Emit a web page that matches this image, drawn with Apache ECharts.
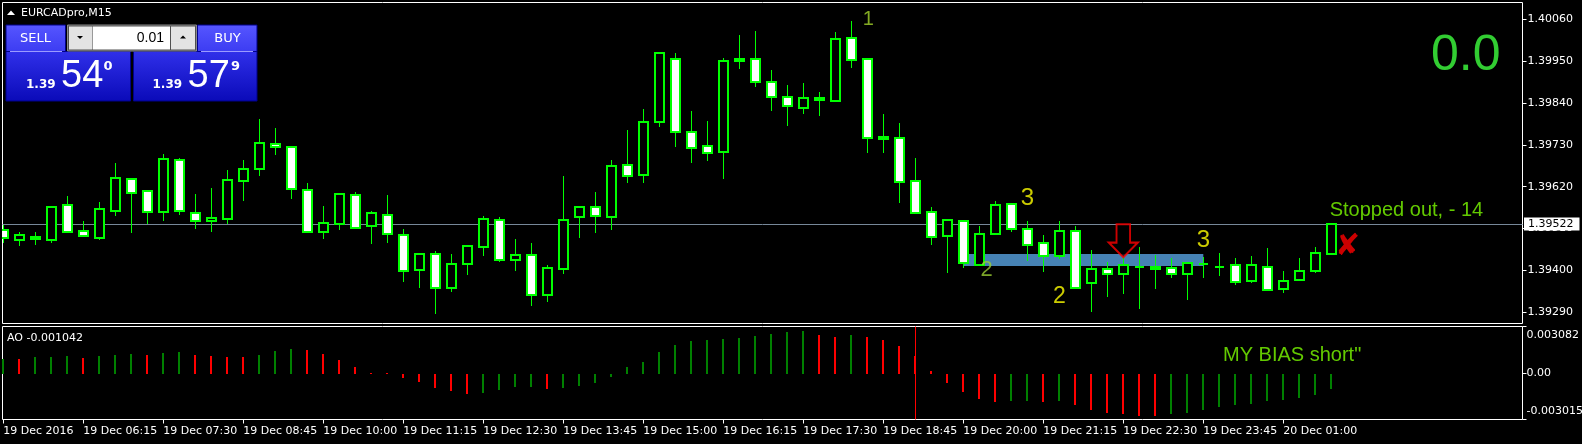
<!DOCTYPE html>
<html><head><meta charset="utf-8">
<script src="https://cdn.jsdelivr.net/npm/echarts@6/dist/echarts.min.js"></script>
<style>html,body{margin:0;padding:0;background:#000;}#c{width:1582px;height:444px;}</style>
</head><body><div id="c"></div>
<script>
// ---------- DATA ----------
const symbolTitle = 'EURCADpro,M15';
const timeLabels = ['19 Dec 2016','19 Dec 06:15','19 Dec 07:30','19 Dec 08:45','19 Dec 10:00','19 Dec 11:15','19 Dec 12:30','19 Dec 13:45','19 Dec 15:00','19 Dec 16:15','19 Dec 17:30','19 Dec 18:45','19 Dec 20:00','19 Dec 21:15','19 Dec 22:30','19 Dec 23:45','20 Dec 01:00'];
const timeTickIdx = [0,5,10,15,20,25,30,35,40,45,50,55,60,65,70,75,80];

const opens = [1.39505,1.39481,1.39487,1.39481,1.39571,1.39503,1.39486,1.39557,1.39641,1.39608,
1.39554,1.39689,1.39550,1.39529,1.39536,1.39634,1.39667,1.39732,1.39724,1.39611,
1.39500,1.39523,1.39598,1.39516,1.39545,1.39492,1.39400,1.39442,1.39353,1.39416,
1.39461,1.39532,1.39427,1.39440,1.39335,1.39403,1.39540,1.39568,1.39540,1.39676,
1.39650,1.39789,1.39955,1.39763,1.39726,1.39710,1.39950,1.39955,1.39894,1.39855,
1.39826,1.39852,1.39845,1.40010,1.39955,1.39750,1.39747,1.39634,1.39553,1.39490,
1.39529,1.39414,1.39495,1.39574,1.39508,1.39471,1.39437,1.39503,1.39366,1.39403,
1.39390,1.39410,1.39408,1.39406,1.39390,1.39417,1.39410,1.39414,1.39371,1.39408,
1.39350,1.39374,1.39398,1.39442];
const highs = [1.39519,1.39501,1.39501,1.39568,1.39596,1.39530,1.39580,1.39682,1.39641,1.39608,
1.39706,1.39696,1.39601,1.39617,1.39664,1.39690,1.39798,1.39774,1.39724,1.39630,
1.39569,1.39604,1.39606,1.39555,1.39598,1.39509,1.39445,1.39451,1.39443,1.39463,
1.39543,1.39540,1.39483,1.39472,1.39414,1.39648,1.39569,1.39606,1.39690,1.39769,
1.39824,1.39973,1.39971,1.39819,1.39793,1.39958,1.40019,1.40029,1.39927,1.39887,
1.39893,1.39869,1.40027,1.40056,1.39955,1.39811,1.39788,1.39696,1.39567,1.39532,
1.39529,1.39516,1.39583,1.39574,1.39530,1.39492,1.39530,1.39516,1.39454,1.39421,
1.39435,1.39461,1.39440,1.39432,1.39419,1.39435,1.39445,1.39432,1.39437,1.39458,
1.39398,1.39433,1.39461,1.39522];
const lows = [1.39473,1.39465,1.39468,1.39473,1.39502,1.39490,1.39480,1.39543,1.39498,1.39521,
1.39530,1.39546,1.39509,1.39501,1.39521,1.39583,1.39649,1.39704,1.39589,1.39500,
1.39483,1.39507,1.39511,1.39470,1.39473,1.39370,1.39355,1.39286,1.39344,1.39389,
1.39439,1.39423,1.39399,1.39307,1.39318,1.39391,1.39486,1.39499,1.39507,1.39631,
1.39631,1.39776,1.39725,1.39683,1.39688,1.39641,1.39930,1.39883,1.39820,1.39780,
1.39812,1.39807,1.39845,1.39933,1.39709,1.39709,1.39578,1.39550,1.39468,1.39394,
1.39406,1.39414,1.39495,1.39500,1.39424,1.39397,1.39429,1.39353,1.39290,1.39331,
1.39339,1.39299,1.39352,1.39381,1.39322,1.39381,1.39386,1.39361,1.39368,1.39348,
1.39342,1.39374,1.39394,1.39442];
const closes = [1.39486,1.39492,1.39482,1.39568,1.39502,1.39490,1.39561,1.39642,1.39603,1.39554,
1.39692,1.39557,1.39529,1.39537,1.39637,1.39666,1.39734,1.39724,1.39613,1.39500,
1.39524,1.39600,1.39511,1.39550,1.39495,1.39398,1.39442,1.39353,1.39416,1.39463,
1.39534,1.39427,1.39440,1.39335,1.39406,1.39532,1.39566,1.39542,1.39674,1.39647,
1.39789,1.39971,1.39763,1.39721,1.39708,1.39950,1.39955,1.39894,1.39855,1.39831,
1.39852,1.39847,1.40007,1.39952,1.39747,1.39745,1.39632,1.39550,1.39487,1.39532,
1.39419,1.39495,1.39571,1.39508,1.39466,1.39437,1.39503,1.39353,1.39403,1.39390,
1.39414,1.39409,1.39403,1.39390,1.39419,1.39418,1.39410,1.39369,1.39414,1.39348,
1.39371,1.39398,1.39445,1.39522];

const aoValues = [0.000966,0.000944,0.001053,0.001064,0.001119,0.001032,0.001119,0.001229,0.001251,0.001185,
0.001317,0.001383,0.001185,0.001119,0.001108,0.001053,0.001185,0.001449,0.001580,0.001514,
0.001273,0.000856,0.000395,0.000066,0.000022,-0.000263,-0.000527,-0.000922,-0.001119,-0.001317,
-0.001251,-0.001097,-0.000900,-0.000889,-0.000988,-0.000966,-0.000834,-0.000636,-0.000241,0.000395,
0.000724,0.001383,0.001844,0.002107,0.002173,0.002239,0.002304,0.002436,0.002568,0.002699,
0.002765,0.002502,0.002370,0.002502,0.002370,0.002173,0.001778,0.001119,0.000176,-0.000593,
-0.001185,-0.001646,-0.001844,-0.001833,-0.001822,-0.001844,-0.001822,-0.002041,-0.002370,-0.002568,
-0.002634,-0.002765,-0.002776,-0.002634,-0.002568,-0.002370,-0.002173,-0.002041,-0.001975,-0.001778,
-0.001712,-0.001580,-0.001383,-0.001042];

const priceTicks = [1.40060,1.39950,1.39840,1.39730,1.39620,1.39510,1.39400,1.39290];
const aoTicks = [0.003082, 0, -0.003015];
const aoTickLabels = ['0.003082','0.00','-0.003015'];
const currentPrice = 1.39522;
const aoMarkerBar = 57;

const zoneBars = [60, 75];
const zonePrices = [1.39443, 1.39412];

const annoTexts = ['1','3','2','2','3','Stopped out, - 14','\u2718'];
const annoX = [54.07, 64.01, 61.46, 66.01, 75.01, 82.9, 84.01];
const annoPrice = [1.40059, 1.395885, 1.39402, 1.39331, 1.394779, 1.395588, 1.394603];
const arrowBar = 70, arrowPrice = 1.394781;

const biasText = 'MY BIAS short"';
const biasX = 76.23, biasValue = 0.00118;
const profitText = '0.0';
const sellPrice = ['1.39','54','0'];
const buyPrice = ['1.39','57','9'];
const lotText = '0.01';

// ---------- LAYOUT ----------
const GL = 2.5, GR = 1522.5, BAR_PX = 16, FIRST_X = 3.3;
const X_MIN = -(FIRST_X - GL) / BAR_PX;
const X_MAX = X_MIN + (GR - GL) / BAR_PX;
const PX_PER_PRICE = 38052, REF_PRICE = 1.40060, REF_Y = 19.3;
const MAIN_TOP = 2.5, MAIN_BOT = 323.5;
const Y_MAX = REF_PRICE + (REF_Y - MAIN_TOP) / PX_PER_PRICE;
const Y_MIN = REF_PRICE - (MAIN_BOT - REF_Y) / PX_PER_PRICE;
const AO_TOP = 326.5, AO_H = 93;

const candleData = opens.map((o, i) => [i, o, closes[i], lows[i], highs[i]]);
const aoData = aoValues.map((v, i) => [i, v]);

const annoStyles = [
  {color:'#a4d42a', fontSize:20},
  {color:'#ffff00', fontSize:24},
  {color:'#9acd32', fontSize:22},
  {color:'#ffff00', fontSize:23},
  {color:'#ffff00', fontSize:24},
  {color:'#7cfc00', fontSize:20, align:'left'},
  {color:'#ff0000', fontSize:30, fontFamily:'DejaVu Sans', fontWeight:'bold'}
];

function renderCandle(params, api) {
  const i = api.value(0), o = api.value(1), c = api.value(2), l = api.value(3), h = api.value(4);
  const po = api.coord([i, o]), pc = api.coord([i, c]), ph = api.coord([i, h]), pl = api.coord([i, l]);
  const cx = Math.round(po[0]);
  const yTop = Math.round(Math.min(po[1], pc[1])), yBot = Math.round(Math.max(po[1], pc[1]));
  const up = c > o;
  return {type:'group', children:[
    {type:'line', shape:{x1:cx + 0.5, y1:Math.round(ph[1]), x2:cx + 0.5, y2:Math.round(pl[1])}, style:{stroke:'#00ff00', lineWidth:1}},
    {type:'rect', shape:{x:cx - 4, y:yTop, width:9, height:yBot - yTop}, style:{fill: up ? '#000000' : '#ffffff', stroke:'#00ff00', lineWidth:2}}
  ]};
}
function renderAO(params, api) {
  const i = api.value(0), v = api.value(1);
  const p = api.coord([i, v]), z = api.coord([i, 0]);
  const cx = Math.round(p[0]);
  const y0 = Math.round(z[1]);
  let y1 = Math.round(p[1]);
  if (Math.abs(y1 - y0) < 1) y1 = v >= 0 ? y0 - 1 : y0 + 1;
  const col = (i === 0 || v > aoValues[i - 1]) ? '#008000' : '#ff0000';
  return {type:'rect', shape:{x:cx - 1, y:Math.min(y0, y1), width:2, height:Math.abs(y1 - y0)}, style:{fill:col}};
}
function renderZone(params, api) {
  const a = api.coord([api.value(0), api.value(2)]), b = api.coord([api.value(1), api.value(3)]);
  return {type:'rect', shape:{x:a[0], y:a[1], width:b[0] - a[0], height:b[1] - a[1]}, style:{fill:'#4682b4'}};
}
function renderBid(params, api) {
  const y = Math.round(api.coord([api.value(0), api.value(1)])[1]) + 0.5;
  const cs = params.coordSys;
  return {type:'group', children:[
    {type:'line', shape:{x1:cs.x, y1:y, x2:cs.x + cs.width, y2:y}, style:{stroke:'#778899', lineWidth:1}},
    {type:'text', x:cs.x + cs.width + 1.5, y:y - 0.5, style:{text:api.value(1).toFixed(5), fill:'#000', backgroundColor:'#ffffff',
      padding:[1,6,1,4], font:'11px "DejaVu Sans"', verticalAlign:'middle', textVerticalAlign:'middle'}}
  ]};
}

const FONT = 'DejaVu Sans';
const annoSeriesData = annoTexts.map((t, k) => ({
  value:[annoX[k], annoPrice[k]],
  label:Object.assign({show:true, position:'inside', formatter:t, fontFamily:'Liberation Sans', align:'center', verticalAlign:'middle'}, annoStyles[k])
}));
annoSeriesData.push({
  value:[arrowBar, arrowPrice],
  symbol:'path://M8,0 L22,0 L22,19 L30,19 L15,34 L0,19 L8,19 Z',
  symbolSize:[29, 33],
  itemStyle:{color:'#000000', borderColor:'#ff0000', borderWidth:2},
  label:{show:false}
});

function sellBuyGraphics(){
  const g = [];
  const blueTop = () => new echarts.graphic.LinearGradient(0,0,0,1,[{offset:0,color:'#5656ff'},{offset:1,color:'#3c3cf2'}]);
  const blueLow = () => new echarts.graphic.LinearGradient(0,0,0,1,[{offset:0,color:'#3030ea'},{offset:1,color:'#0a0ab8'}]);
  g.push({type:'polygon', shape:{points:[[7,15],[15,15],[11,10.5]]}, style:{fill:'#fff'}});
  g.push({type:'text', x:21, y:13, style:{text:symbolTitle, fill:'#fff', font:'11px "DejaVu Sans"', textVerticalAlign:'middle', verticalAlign:'middle'}});
  g.push({type:'rect', shape:{x:6, y:51.5, width:124.5, height:49.5}, style:{fill:blueLow(), stroke:'#00008a', lineWidth:1}});
  g.push({type:'rect', shape:{x:6, y:25, width:59.5, height:26.5}, style:{fill:blueTop(), stroke:'#00008a', lineWidth:1}});
  g.push({type:'line', shape:{x1:10, y1:51.5, x2:62, y2:51.5}, style:{stroke:'#9a9aff', lineWidth:1}});
  g.push({type:'rect', shape:{x:133.5, y:51.5, width:123.5, height:49.5}, style:{fill:blueLow(), stroke:'#00008a', lineWidth:1}});
  g.push({type:'rect', shape:{x:197.5, y:25, width:59.5, height:26.5}, style:{fill:blueTop(), stroke:'#00008a', lineWidth:1}});
  g.push({type:'line', shape:{x1:201, y1:51.5, x2:253, y2:51.5}, style:{stroke:'#9a9aff', lineWidth:1}});
  g.push({type:'rect', shape:{x:67.5, y:25, width:129, height:26}, style:{fill:'#505050', stroke:'#8a8a8a', lineWidth:1}});
  g.push({type:'rect', shape:{x:69, y:26.5, width:23.5, height:23}, style:{fill:'#e3e3e3'}});
  g.push({type:'rect', shape:{x:93, y:26.5, width:77, height:23}, style:{fill:'#ffffff'}});
  g.push({type:'rect', shape:{x:171, y:26.5, width:24, height:23}, style:{fill:'#e3e3e3'}});
  g.push({type:'polygon', shape:{points:[[77,36],[83,36],[80,39]]}, style:{fill:'#000'}});
  g.push({type:'polygon', shape:{points:[[180,38.5],[186,38.5],[183,35.5]]}, style:{fill:'#000'}});
  g.push({type:'text', x:164, y:38, style:{text:lotText, fill:'#000', font:'14px "Liberation Sans"', textAlign:'right', align:'right', textVerticalAlign:'middle', verticalAlign:'middle'}});
  const txt = (t, x, y, font, align) => ({type:'text', x, y, style:{text:t, fill:'#fff', font, textAlign:align, align, textVerticalAlign:'middle', verticalAlign:'middle'}});
  g.push(txt('SELL', 35.5, 39, '13px "DejaVu Sans"', 'center'));
  g.push(txt('BUY', 227.5, 39, '13px "DejaVu Sans"', 'center'));
  g.push(txt(sellPrice[0], 26, 85, 'bold 12px "DejaVu Sans"', 'left'));
  g.push(txt(sellPrice[1], 61, 76.5, '38px "Liberation Sans"', 'left'));
  g.push(txt(sellPrice[2], 103.5, 67, 'bold 13px "DejaVu Sans"', 'left'));
  g.push(txt(buyPrice[0], 152.5, 85, 'bold 12px "DejaVu Sans"', 'left'));
  g.push(txt(buyPrice[1], 187.5, 76.5, '38px "Liberation Sans"', 'left'));
  g.push(txt(buyPrice[2], 231, 67, 'bold 13px "DejaVu Sans"', 'left'));
  g.push({type:'text', x:1500.5, y:56.5, style:{text:profitText, fill:'#32cd32', font:'50px "Liberation Sans"', textAlign:'right', align:'right', textVerticalAlign:'middle', verticalAlign:'middle'}});
  g.push({type:'text', x:7, y:338, style:{text:'AO ' + aoValues[aoValues.length - 1].toFixed(6), fill:'#fff', font:'11px "DejaVu Sans"', textVerticalAlign:'middle', verticalAlign:'middle'}});
  return g;
}

const chart = echarts.init(document.getElementById('c'), null, {renderer:'canvas'});
const option = {
  backgroundColor:'#000000',
  animation:false,
  grid:[
    {left:GL, top:MAIN_TOP, width:GR - GL, height:MAIN_BOT - MAIN_TOP, show:true, borderColor:'#ffffff', borderWidth:1, backgroundColor:'#000', containLabel:false, outerBoundsMode:'none'},
    {left:GL, top:AO_TOP, width:GR - GL, height:AO_H, show:true, borderColor:'#ffffff', borderWidth:1, backgroundColor:'#000', containLabel:false, outerBoundsMode:'none'}
  ],
  xAxis:[
    {gridIndex:0, type:'value', min:X_MIN, max:X_MAX, show:false, splitLine:{show:false}},
    {gridIndex:1, type:'value', min:X_MIN, max:X_MAX, position:'bottom',
      axisLine:{show:false, onZero:false}, splitLine:{show:false},
      axisTick:{show:true, customValues:timeTickIdx, length:4, lineStyle:{color:'#ffffff'}},
      axisLabel:{show:true, customValues:timeTickIdx, margin:6, align:'left', color:'#ffffff', fontFamily:FONT, fontSize:11,
        formatter:(v) => { const k = timeTickIdx.indexOf(Math.round(v)); return k >= 0 ? timeLabels[k] : ''; }}}
  ],
  yAxis:[
    {gridIndex:0, type:'value', position:'right', min:Y_MIN, max:Y_MAX,
      axisLine:{show:false, onZero:false}, splitLine:{show:false},
      axisTick:{show:true, customValues:priceTicks, length:4, lineStyle:{color:'#ffffff'}},
      axisLabel:{show:true, customValues:priceTicks, margin:5, color:'#ffffff', fontFamily:FONT, fontSize:11, formatter:(v) => v.toFixed(5)}},
    {gridIndex:1, type:'value', position:'right', min:aoTicks[2], max:aoTicks[0],
      axisLine:{show:false, onZero:false}, splitLine:{show:false},
      axisTick:{show:true, customValues:aoTicks, length:4, lineStyle:{color:'#ffffff'}},
      axisLabel:{show:true, customValues:aoTicks, margin:4, color:'#ffffff', fontFamily:FONT, fontSize:11,
        formatter:(v) => { let k = 0, best = 1e9; aoTicks.forEach((t, j) => { if (Math.abs(t - v) < best) { best = Math.abs(t - v); k = j; } });
          return '{' + (k === 0 ? 't' : k === 2 ? 'b' : 'm') + '|' + aoTickLabels[k] + '}'; },
        rich:{
          t:{padding:[18,0,0,0], color:'#fff', fontFamily:FONT, fontSize:11},
          m:{color:'#fff', fontFamily:FONT, fontSize:11},
          b:{padding:[0,0,16,0], color:'#fff', fontFamily:FONT, fontSize:11}
        }}}
  ],
  series:[
    {type:'custom', name:'zone', xAxisIndex:0, yAxisIndex:0, z:1, clip:true, renderItem:renderZone,
      encode:{x:[0,1], y:[2,3]},
      data:[[zoneBars[0], zoneBars[1], zonePrices[0], zonePrices[1]]]},
    {type:'custom', name:'bid', xAxisIndex:0, yAxisIndex:0, z:1, clip:false, renderItem:renderBid,
      encode:{x:0, y:1}, data:[[opens.length - 1, currentPrice]]},
    {type:'custom', name:'candles', xAxisIndex:0, yAxisIndex:0, z:3, clip:true, renderItem:renderCandle,
      encode:{x:0, y:[1,2,3,4]}, data:candleData},
    {type:'scatter', name:'notes', xAxisIndex:0, yAxisIndex:0, z:5, symbolSize:1, itemStyle:{color:'rgba(0,0,0,0)'},
      data:annoSeriesData},
    {type:'custom', name:'AO', xAxisIndex:1, yAxisIndex:1, z:3, clip:true, renderItem:renderAO,
      encode:{x:0, y:1}, data:aoData,
      markLine:{silent:true, symbol:['none','none'], animation:false, data:[{xAxis:aoMarkerBar}],
        lineStyle:{color:'#ff0000', width:1, type:'solid'}, label:{show:false}}},
    {type:'scatter', name:'bias', xAxisIndex:1, yAxisIndex:1, z:5, symbolSize:1, itemStyle:{color:'rgba(0,0,0,0)'},
      data:[{value:[biasX, biasValue], label:{show:true, position:'inside', formatter:biasText, align:'left', verticalAlign:'middle',
        color:'#7cfc00', fontSize:20, fontFamily:'Liberation Sans'}}]}
  ],
  graphic:{elements:sellBuyGraphics()}
};
chart.setOption(option);
</script>
</body></html>
